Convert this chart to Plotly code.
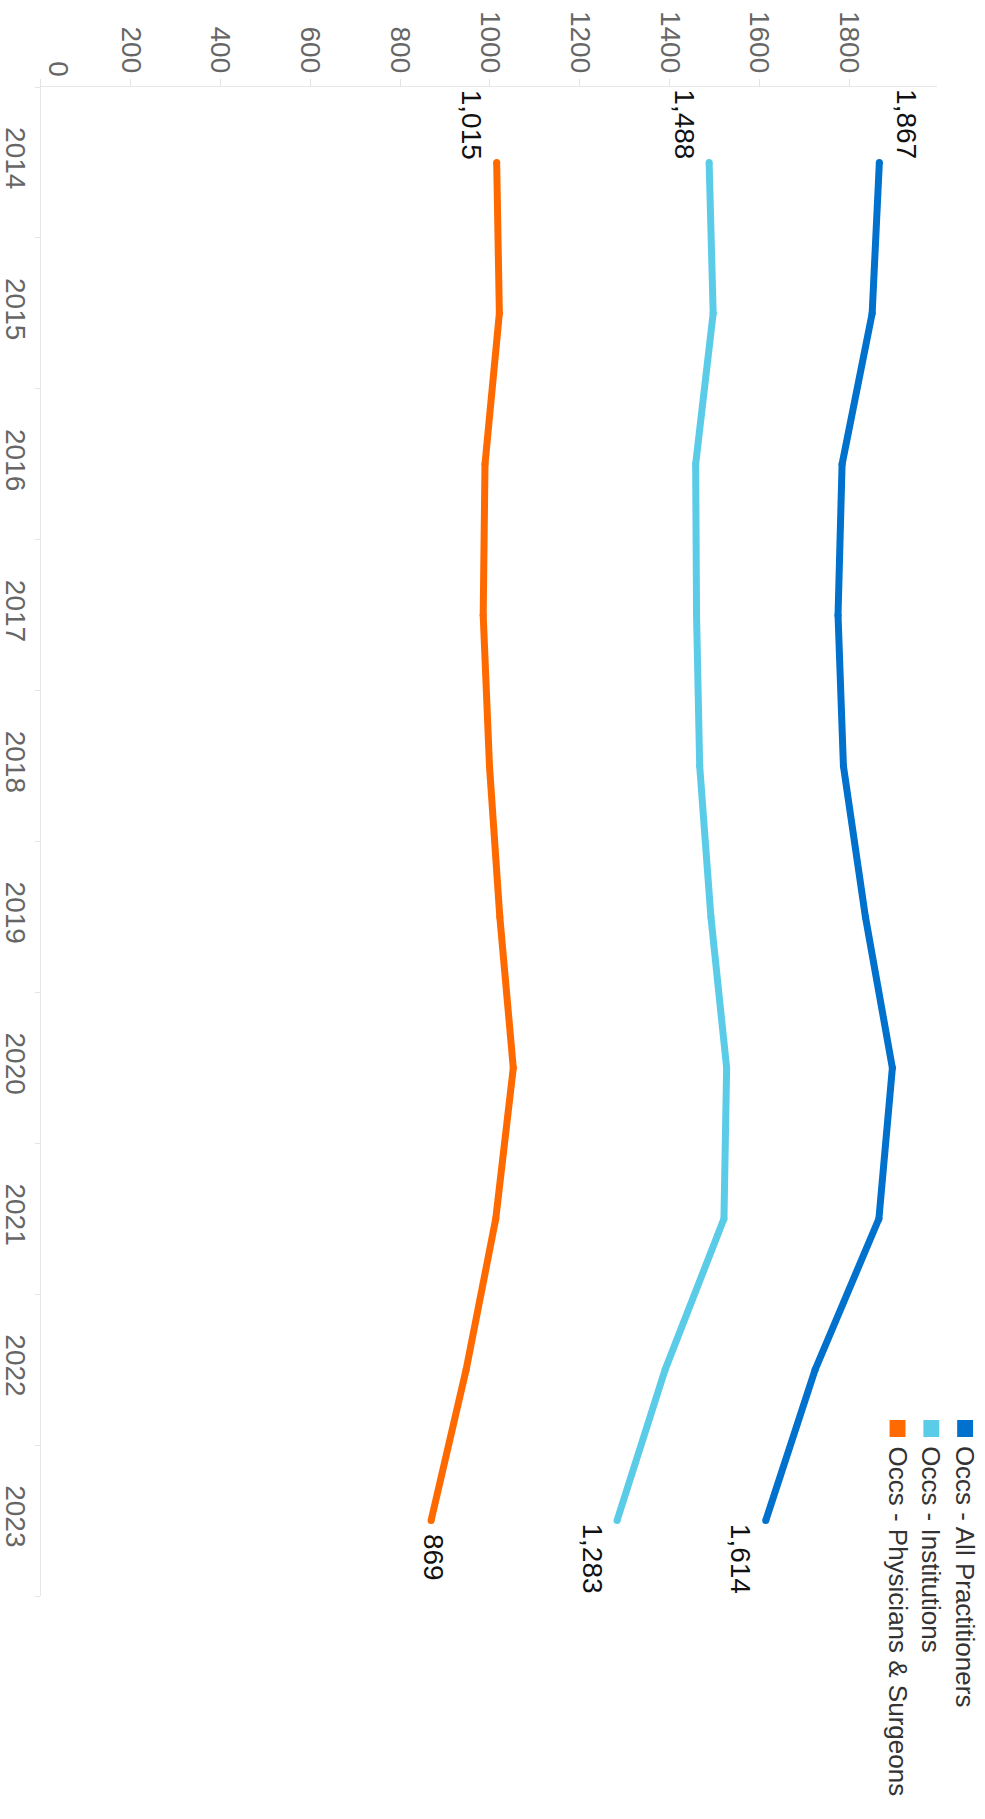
import plotly.graph_objects as go

# Yearly occurrence counts per group
years = [2014, 2015, 2016, 2017, 2018, 2019, 2020, 2021, 2022, 2023]
all_practitioners = [1867, 1851, 1784, 1775, 1787, 1836, 1896, 1866, 1724, 1614]
institutions = [1488, 1497, 1458, 1460, 1467, 1492, 1527, 1521, 1390, 1283]
physicians_surgeons = [1015, 1021, 989, 985, 999, 1022, 1052, 1013, 947, 869]

series_names = ["Occs - All Practitioners", "Occs - Institutions", "Occs - Physicians & Surgeons"]
series_values = [all_practitioners, institutions, physicians_surgeons]
series_colors = ["#0071CD", "#5BCCE7", "#FF6A00"]

value_ticks = [0, 200, 400, 600, 800, 1000, 1200, 1400, 1600, 1800]

W, H = 985, 1819
FONT = "Liberation Sans, Arial, sans-serif"

# plot area in pixels
left, right, top, bottom = 35, 937, 87, 1596


def px_x(p):
    return p / W


def px_y(p):
    return 1 - p / H


fig = go.Figure()

for name, vals, color in zip(series_names, series_values, series_colors):
    fig.add_trace(go.Scatter(
        x=vals, y=years, mode="lines+markers", name=name,
        line=dict(color=color, width=7),
        marker=dict(color=color, size=7),
        showlegend=False, hoverinfo="skip",
    ))

# first / last value labels (side offsets in pixels across the line)
start_shift = [27, -25, -25]
end_shift = [-25, -25, 3]
end_gap = [0, 0, 10]
annotations = []
for vals, xs0, xs1, gap in zip(series_values, start_shift, end_shift, end_gap):
    annotations.append(dict(
        x=vals[0], y=years[0], xref="x", yref="y", text=f"{vals[0]:,}",
        textangle=90, showarrow=False, xanchor="center", yanchor="bottom",
        xshift=xs0, yshift=1, font=dict(family=FONT, size=28, color="#111"),
    ))
    annotations.append(dict(
        x=vals[-1], y=years[-1], xref="x", yref="y", text=f"{vals[-1]:,}",
        textangle=90, showarrow=False, xanchor="center", yanchor="top",
        xshift=xs1, yshift=-1 - gap, font=dict(family=FONT, size=28, color="#111"),
    ))

# the zero label sits just inside the plot edge
annotations.append(dict(
    x=0, y=1 - top / H, xref="x", yref="paper", text="0",
    textangle=90, showarrow=False, xanchor="center", yanchor="bottom",
    xshift=17, yshift=8, font=dict(family=FONT, size=28, color="#666"),
))

# legend: colour swatches with rotated names
shapes = []
legend_x = [965, 931, 897]
for i, (name, color) in enumerate(zip(series_names, series_colors)):
    cx = legend_x[i]
    shapes.append(dict(
        type="rect", xref="paper", yref="paper",
        x0=px_x(cx - 8), x1=px_x(cx + 8), y0=px_y(1437), y1=px_y(1420),
        fillcolor=color, line=dict(width=0),
    ))
    annotations.append(dict(
        x=px_x(cx), y=px_y(1444), xref="paper", yref="paper", text=name,
        textangle=90, showarrow=False, xanchor="center", yanchor="top",
        font=dict(family=FONT, size=26, color="#333"),
    ))

fig.update_layout(
    width=W, height=H,
    margin=dict(l=0, r=0, t=0, b=0),
    paper_bgcolor="white", plot_bgcolor="white",
    font=dict(family=FONT),
    annotations=annotations,
    shapes=shapes,
    xaxis=dict(
        domain=[left / W, right / W], range=[0, 1996], side="top",
        tickvals=value_ticks, ticktext=["" if v == 0 else str(v) for v in value_ticks],
        tickangle=90, tickfont=dict(family=FONT, size=28, color="#666"),
        ticks="outside", ticklen=7, tickcolor="#e3e3e3",
        ticklabelstandoff=-4,
        showline=True, linecolor="#e6e6e6", linewidth=1,
        showgrid=False, zeroline=False,
    ),
    yaxis=dict(
        domain=[1 - bottom / H, 1 - top / H], range=[2023.5, 2013.5],
        tickvals=years, ticktext=[str(y) for y in years],
        tickangle=90, tickfont=dict(family=FONT, size=28, color="#666"),
        ticks="",
        minor=dict(ticks="outside", ticklen=5, tickcolor="#e3e3e3", tick0=2013.5, dtick=1),
        showline=True, linecolor="#e6e6e6", linewidth=1,
        showgrid=False, zeroline=False,
    ),
)

fig.write_html("out.html")
